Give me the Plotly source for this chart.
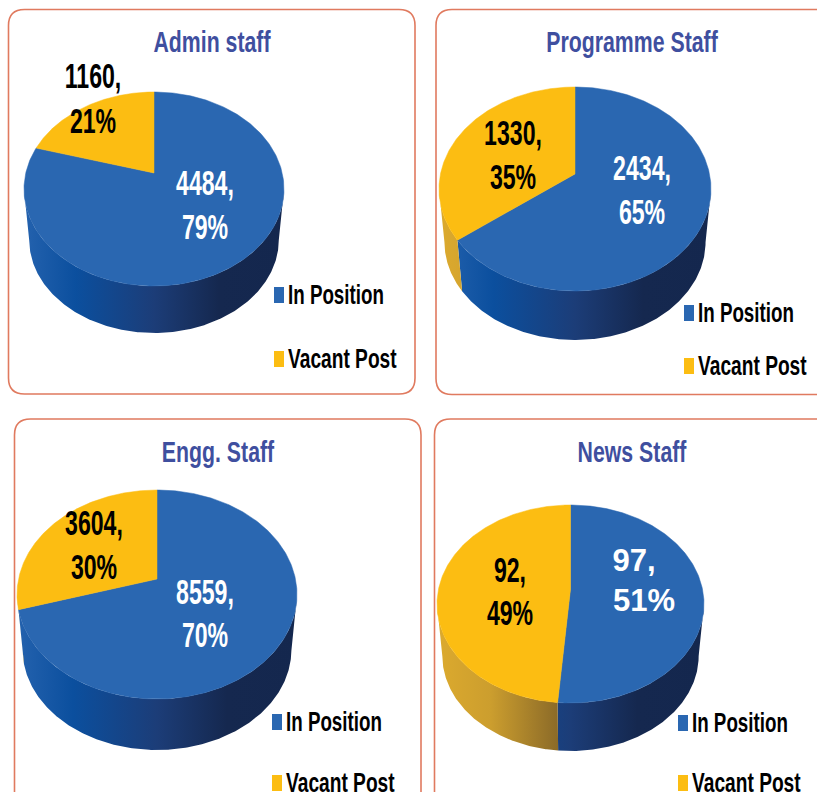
import json
import numpy as np
import plotly.graph_objects as go

# ---- data ----
panel_titles = ["Admin staff", "Programme Staff", "Engg. Staff", "News Staff"]
categories = ["In Position", "Vacant Post"]
in_position = [4484, 2434, 8559, 97]
vacant_post = [1160, 1330, 3604, 92]

# ---- styles and layout (pixel space of the picture) ----
BLUE, GOLD = "#2a67b1", "#fcbd12"
TITLE_C, BORDER_C = "#3f4f9f", "#e07a5f"
FONT = "Liberation Sans"
BLUE_SIDE = [[0, "#2462ae"], [0.2, "#0b4f9e"], [0.5, "#1c3d78"], [0.75, "#15284f"], [1, "#14274e"]]
GOLD_SIDE = [[0, "#dcaa2e"], [0.2, "#cc9e2e"], [0.45, "#8c6b28"], [1, "#5a4520"]]

boxes = [(8.5, 9.5, 415, 394), (436, 9.5, 840, 394.5), (14.5, 419, 421, 830), (434.5, 419, 840, 830)]
pies = [  # cx, cy, rx, ry, tilt, bottom of the side wall
    (154, 189, 130, 97, 0.165, 333),
    (575, 189, 136, 102, 0.147, 340),
    (157, 594.5, 140, 104.5, 0.148, 750),
    (570.5, 604, 133.5, 99, 0.15, 751),
]
title_pos = [(212, 45), (632, 45), (218, 455), (632, 455)]
# x of value line, x of percent line, y of value line, y of percent line
blue_lab = [(205, 205, 186, 230), (642, 642, 171, 215), (205, 205, 595, 638), (634, 644, 563, 603)]
gold_lab = [(93, 93, 79, 124), (513, 513, 136, 180), (94, 94, 526, 570), (510, 510, 573, 616)]
blue_size = [35, 35, 35, 31]
gold_size = [35, 35, 35, 35]
TITLE_SIZE, LEGEND_SIZE = 30, 28
legend_x = [274, 684, 272, 678]
legend_y = [(287, 351), (305, 358), (714, 775), (715, 775)]
LEGEND_TEXT_DY = 10
SIDE_SHRINK = 0.96
# horizontal squeeze of the text (the source uses a condensed face)
squeeze = {"35px": 0.66, "30px": 0.71, "28px": 0.67, "Vacant Post": 0.685}


def rim(theta, t):
    """Circle angle (clockwise from 12 o'clock) to the tilted, perspective ellipse."""
    u, v = np.sin(theta), np.cos(theta)
    d = 1 + t * v
    return u * np.sqrt(1 - t * t) / d, (v + t) / d


def rrect(x0, y0, x1, y1, r=16):
    return (f"M{x0+r},{y0} L{x1-r},{y0} Q{x1},{y0} {x1},{y0+r} L{x1},{y1-r} Q{x1},{y1} {x1-r},{y1} "
            f"L{x0+r},{y1} Q{x0},{y1} {x0},{y1-r} L{x0},{y0+r} Q{x0},{y0} {x0+r},{y0} Z")


def add_text(fig, xs, ys, texts, size, color, pos="middle center"):
    fig.add_trace(go.Scatter(
        x=xs, y=ys, mode="text", text=texts, textposition=pos, cliponaxis=False,
        textfont=dict(family=FONT, size=size, color=color, weight="bold"),
        hoverinfo="skip", showlegend=False))


fig = go.Figure()
shapes = []

for b in boxes:
    shapes.append(dict(type="path", path=rrect(*b), line=dict(color=BORDER_C, width=1.6),
                       fillcolor="white", layer="below"))

for i in range(4):
    cx, cy, rx, ry, t, side_bottom = pies[i]
    vals = [in_position[i], vacant_post[i]]
    total = sum(vals)
    edges = [0, 2 * np.pi * vals[0] / total, 2 * np.pi]
    cols = [BLUE, GOLD]
    sides = [BLUE_SIDE, GOLD_SIDE]
    ryb = ry * SIDE_SHRINK
    cyb = side_bottom - ryb

    # side walls first
    for k in range(2):
        th = np.linspace(edges[k], edges[k + 1], 400)
        X, Y = rim(th, t)
        keep = Y <= 0
        if keep.sum() < 2:
            continue
        X, Y = X[keep], Y[keep]
        xs = np.r_[cx + rx * X, (cx + rx * SIDE_SHRINK * X)[::-1]]
        ys = np.r_[cy - ry * Y, (cyb - ryb * Y)[::-1]]
        fig.add_trace(go.Scatter(
            x=xs, y=ys, mode="lines", fill="toself", line=dict(width=0),
            fillgradient=dict(type="horizontal", colorscale=sides[k], start=cx - rx, stop=cx + rx),
            hoverinfo="skip", showlegend=False))
    # top face
    for k in range(2):
        th = np.linspace(edges[k], edges[k + 1], 300)
        X, Y = rim(th, t)
        xs = np.r_[cx, cx + rx * X, cx]
        ys = np.r_[cy - ry * t, cy - ry * Y, cy - ry * t]
        fig.add_trace(go.Scatter(x=xs, y=ys, mode="lines", fill="toself", fillcolor=cols[k],
                                 line=dict(width=0.5, color=cols[k]),
                                 hoverinfo="skip", showlegend=False))
    # value labels
    for k, lab, colr, size in ((0, blue_lab[i], "white", blue_size[i]), (1, gold_lab[i], "black", gold_size[i])):
        add_text(fig, [lab[0], lab[1]], [lab[2], lab[3]],
                 [f"{vals[k]},", f"{round(100 * vals[k] / total)}%"], size, colr)
    # title
    add_text(fig, [title_pos[i][0]], [title_pos[i][1]], [panel_titles[i]], TITLE_SIZE, TITLE_C)
    # legend
    for k in range(2):
        y0 = legend_y[i][k]
        shapes.append(dict(type="rect", x0=legend_x[i], x1=legend_x[i] + 10, y0=y0, y1=y0 + 16,
                           fillcolor=cols[k], line=dict(width=0)))
        add_text(fig, [legend_x[i] + 14], [y0 + LEGEND_TEXT_DY], [categories[k]], LEGEND_SIZE, "black", "middle right")

fig.update_layout(
    width=817, height=792, margin=dict(l=0, r=0, t=0, b=0),
    paper_bgcolor="white", plot_bgcolor="white", showlegend=False,
    xaxis=dict(range=[0, 817], visible=False, fixedrange=True),
    yaxis=dict(range=[792, 0], visible=False, fixedrange=True),
    shapes=shapes,
)

post = """
document.body.style.margin = '0';
document.body.style.overflow = 'hidden';
var squeeze = %s;
document.querySelectorAll('.textpoint text').forEach(function (el) {
  var s = squeeze[el.textContent] || squeeze[el.style.fontSize];
  if (s) {
    var x = parseFloat(el.getAttribute('x')) || 0;
    var old = el.getAttribute('transform') || '';
    el.setAttribute('transform', old + ' translate(' + x + ',0) scale(' + s + ',1) translate(' + (-x) + ',0)');
  }
});
""" % json.dumps(squeeze)
fig.write_html("out.html", config=dict(displayModeBar=False), post_script=post)
